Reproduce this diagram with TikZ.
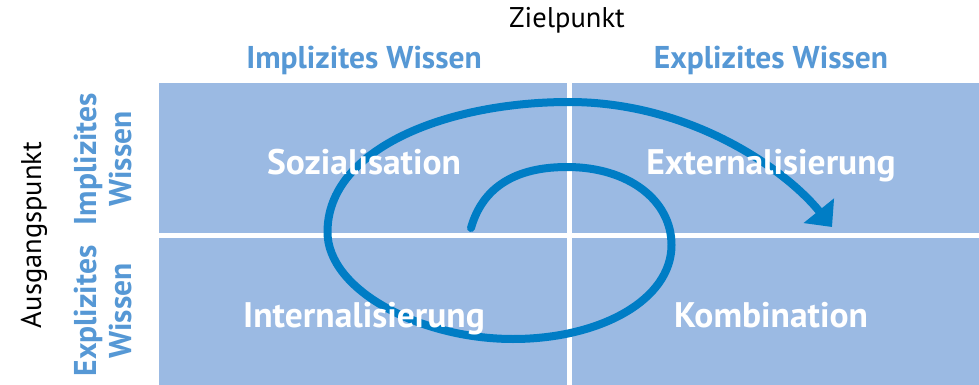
\documentclass[tikz,border=0pt]{standalone}
\usepackage{fontspec}
\setmainfont{PT Sans}
\usetikzlibrary{arrows.meta}
\definecolor{quadfill}{RGB}{155,186,227}
\definecolor{headblue}{RGB}{86,152,213}
\definecolor{spiralblue}{RGB}{0,125,197}
\tikzset{
  quadbox/.style={fill=quadfill, draw=none, inner sep=0pt, anchor=north west},
  quadlabel/.style={text=white, font=\bfseries\fontsize{35.5}{38}\selectfont, anchor=base, inner sep=0pt},
  headlabel/.style={text=headblue, font=\bfseries\fontsize{31.5}{35}\selectfont, inner sep=0pt},
  axislabel/.style={text=black, font=\fontsize{28.5}{32}\selectfont, inner sep=0pt},
  spiralline/.style={draw=spiralblue, line width=8pt, line cap=round, -{Triangle[length=21pt,width=38pt]}}
}
\begin{document}
\begin{tikzpicture}[x=1pt,y=-1pt]
\useasboundingbox (0,0) rectangle (979,385);
\fill[white] (0,0) rectangle (979,385);
% quadrants
\node[quadbox, minimum width=407.5pt, minimum height=150pt] (qtl) at (159,83) {};
\node[quadbox, minimum width=407.5pt, minimum height=150pt] (qtr) at (571.5,83) {};
\node[quadbox, minimum width=407.5pt, minimum height=147pt] (qbl) at (159,238) {};
\node[quadbox, minimum width=407.5pt, minimum height=147pt] (qbr) at (571.5,238) {};
% spiral
\coordinate (s) at (471,228);
\coordinate (t1) at (567,167);
\coordinate (r) at (671.5,245);
\coordinate (b) at (513,339);
\coordinate (l) at (327.5,232);
\coordinate (t2) at (569,102);
\coordinate (e) at (832,227);
\draw[spiralline] (s) .. controls (480,196) and (505,167) .. (t1)
  .. controls (628,167) and (671.5,200) .. (r)
  .. controls (671.5,300) and (600,339) .. (b)
  .. controls (420,339) and (327.5,290) .. (l)
  .. controls (327.5,148) and (448,102) .. (t2)
  .. controls (690,102) and (785,169) .. (e);
% quadrant labels
\node[quadlabel] (soz) at (364,174) {Sozialisation};
\node[quadlabel] (ext) at (771,174) {Externalisierung};
\node[quadlabel] (int) at (364,327) {Internalisierung};
\node[quadlabel] (kom) at (771,327) {Kombination};
% headers
\node[axislabel] (ziel) at (567,20) {Zielpunkt};
\node[headlabel] (himpl) at (364,60) {Implizites Wissen};
\node[headlabel] (hexpl) at (771,60) {Explizites Wissen};
\node[axislabel, rotate=90] (ausg) at (34,235) {Ausgangspunkt};
\node[headlabel, rotate=90, align=center] (vimpl) at (103,159) {Implizites\\Wissen};
\node[headlabel, rotate=90, align=center] (vexpl) at (103,311) {Explizites\\Wissen};
\end{tikzpicture}
\end{document}
